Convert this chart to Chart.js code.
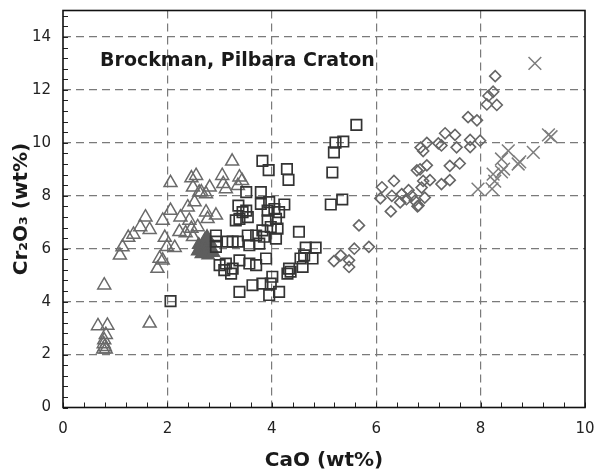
<!DOCTYPE html>
<html>
<head>
<meta charset="utf-8">
<script src="https://cdn.jsdelivr.net/npm/chart.js@4"></script>
<style>
  html,body{margin:0;padding:0;background:#fff;}
  #wrap{width:604px;height:473px;}
</style>
</head>
<body>
<div id="wrap"><canvas id="c" width="604" height="473"></canvas></div>
<script>
// ---- Data (CaO wt%, Cr2O3 wt%) ----
const chartLabel = "Brockman, Pilbara Craton";
const xTitle = "CaO (wt%)";
const yTitle = "Cr\u2082O\u2083 (wt%)";
const xTicks = [0, 2, 4, 6, 8, 10];
const yTicks = [0, 2, 4, 6, 8, 10, 12, 14];

const triangles = [
  [0.67,3.08],[0.85,3.1],[1.66,3.18],[0.82,2.75],[0.79,2.55],[0.78,2.4],[0.8,2.3],[0.77,2.2],[0.82,2.2],[0.79,4.62],
  [1.09,5.75],[1.14,6.06],[1.25,6.42],[1.35,6.54],[1.48,6.82],[1.58,7.19],[1.66,6.72],[1.91,7.07],[2.06,7.44],[2.06,8.49],
  [1.95,6.42],[1.99,6.07],[1.85,5.63],[1.81,5.25],[1.91,5.56],[2.14,6.04],[2.25,7.19],[2.39,7.57],[2.46,8.67],[2.55,8.76],
  [2.49,8.32],[2.61,8.13],[2.81,8.32],[2.74,8.07],[2.52,7.76],[2.42,7.07],[2.46,6.76],[2.23,6.64],[2.35,6.59],[2.49,6.45],
  [2.74,7.38],[2.93,7.26],[2.58,6.82],[3.24,9.30],[3.05,8.76],[3.07,8.45],[3.12,8.26],[3.38,8.70],[3.43,8.57],[3.35,8.38],
  [2.65,8.14],[2.77,7.13]
];
const filledCluster = [
  [2.62,6.0],[2.7,6.2],[2.75,5.9],[2.8,6.1],[2.65,5.8],[2.72,6.35],[2.85,6.0],[2.6,6.15],
  [2.78,5.75],[2.68,6.05],[2.82,6.25],[2.7,5.85],[2.58,5.9],[2.76,6.45],[2.88,5.85]
];
const squares = [
  [2.06,4.02],
  [3.82,9.32],[3.94,8.97],[4.29,9.01],[4.32,8.60],[3.51,8.14],[3.79,8.14],[3.36,7.63],[3.79,7.69],[3.95,7.76],[4.24,7.67],
  [3.44,7.38],[3.38,7.13],[3.54,7.19],[3.31,7.07],[3.51,7.44],
  [3.92,7.44],[4.05,7.50],[4.14,7.38],[3.92,7.07],[4.08,7.13],[3.98,6.82],[3.82,6.69],[4.11,6.76],[4.08,6.38],[3.85,6.45],
  [3.70,6.5],[3.54,6.5],[3.57,6.13],[3.76,6.19],
  [3.15,6.27],[3.25,6.27],[3.35,6.27],
  [2.93,6.5],[2.93,6.27],[2.93,6.07],
  [4.52,6.64],[4.65,6.04],[4.84,6.04],[4.62,5.75],[4.78,5.63],[4.55,5.63],[4.59,5.31],
  [3.0,5.38],[3.12,5.44],[3.25,5.25],[3.09,5.19],[3.22,5.06],[3.38,5.56],[3.57,5.44],[3.70,5.38],[3.89,5.63],
  [4.33,5.25],[4.36,5.13],[4.30,5.06],
  [3.38,4.37],[3.63,4.62],[3.82,4.68],[4.01,4.94],[3.98,4.68],[4.14,4.37],[3.95,4.25],
  [5.62,10.68],[5.22,10.01],[5.37,10.05],[5.19,9.64],[5.16,8.88],[5.13,7.67],[5.35,7.86]
];
const diamonds = [
  [5.19,5.53],[5.32,5.75],[5.48,5.56],[5.58,6.0],[5.86,6.07],[5.48,5.31],[5.67,6.88],
  [6.28,7.41],[6.08,7.9],[6.11,8.32],[6.34,8.56],[6.30,8.0],[6.46,7.75],[6.49,8.06],[6.58,7.87],[6.62,8.21],
  [6.68,8.0],[6.74,7.81],[6.79,7.6],[6.93,7.93],[6.87,8.31],[6.90,8.56],[7.03,8.59],[6.84,9.0],[6.97,9.15],
  [6.78,8.96],[6.90,9.69],[6.85,9.82],[6.97,10.0],[7.19,9.98],[7.25,9.9],[7.32,10.36],[7.51,10.3],[7.54,9.83],
  [7.80,10.11],[7.99,10.08],[7.80,9.84],[7.41,9.13],[7.60,9.22],[7.25,8.44],[7.41,8.59],[7.76,10.97],[7.93,10.85],
  [8.12,11.45],[8.31,11.43],[8.24,11.93],[8.15,11.77],[8.28,12.52],[6.81,7.63]
];
const crosses = [
  [9.04,13.0],[9.35,10.23],[9.30,10.30],[9.01,9.64],[8.53,9.70],[8.40,9.39],[8.44,9.01],[8.72,9.20],[8.75,9.28],
  [8.24,8.82],[8.22,8.26],[7.95,8.25],[8.27,8.55],[8.40,8.9]
];

const toXY = a => a.map(p => ({x: p[0], y: p[1]}));
const FONT = "'DejaVu Sans', Verdana, sans-serif";

const framePlugin = {
  id: 'frame',
  afterDatasetsDraw(chart) {
    const {ctx, chartArea: a, scales: {x, y}} = chart;
    ctx.save();
    ctx.strokeStyle = '#222';
    ctx.lineWidth = 1;
    ctx.beginPath();
    const step = 0.4;
    for (let i = 0; i * step <= x.max + 1e-9; i++) {
      const px = Math.round(x.getPixelForValue(i * step)) + 0.5;
      ctx.moveTo(px, a.bottom);
      ctx.lineTo(px, a.bottom - 5);
    }
    for (let i = 0; i * step <= y.max + 1e-9; i++) {
      const py = Math.round(y.getPixelForValue(i * step)) + 0.5;
      ctx.moveTo(a.left, py);
      ctx.lineTo(a.left + 5, py);
    }
    ctx.stroke();
    ctx.strokeStyle = '#111';
    ctx.lineWidth = 1.6;
    ctx.strokeRect(a.left, a.top, a.right - a.left, a.bottom - a.top);
    ctx.fillStyle = '#1a1a1a';
    ctx.font = "bold 19px " + FONT;
    ctx.textAlign = 'left';
    ctx.textBaseline = 'middle';
    ctx.fillText(chartLabel, x.getPixelForValue(0.71), y.getPixelForValue(13.08));
    ctx.restore();
  }
};

new Chart(document.getElementById('c'), {
  type: 'scatter',
  data: {
    datasets: [
      {label: 'squares', data: toXY(squares), pointStyle: 'rect', radius: 7.4, borderColor: '#333', backgroundColor: 'rgba(0,0,0,0)', borderWidth: 1.7, order: 1},
      {label: 'cluster', data: toXY(filledCluster), pointStyle: 'triangle', radius: 7, borderColor: '#5e5e5e', backgroundColor: '#5e5e5e', borderWidth: 1.5, order: 2},
      {label: 'triangles', data: toXY(triangles), pointStyle: 'triangle', radius: 7.5, borderColor: '#6a6a6a', backgroundColor: 'rgba(0,0,0,0)', borderWidth: 1.5, order: 3},
      {label: 'diamonds', data: toXY(diamonds), pointStyle: 'rectRot', radius: 5.5, borderColor: '#666', backgroundColor: 'rgba(0,0,0,0)', borderWidth: 1.6, order: 4},
      {label: 'crosses', data: toXY(crosses), pointStyle: 'crossRot', radius: 9, borderColor: '#7d7d7d', backgroundColor: 'rgba(0,0,0,0)', borderWidth: 1.5, order: 5}
    ]
  },
  options: {
    responsive: false,
    animation: false,
    devicePixelRatio: 1,
    layout: {padding: {top: 9, right: 19, left: 0, bottom: 0}},
    plugins: {legend: {display: false}, tooltip: {enabled: false}},
    scales: {
      x: {
        type: 'linear', min: 0, max: 10,
        afterBuildTicks: s => { s.ticks = xTicks.map(v => ({value: v})); },
        afterFit: s => { s.height = 65.5; s.paddingLeft = 0; s.paddingRight = 0; },
        ticks: {font: {family: FONT, size: 15}, color: '#222', padding: 13, maxRotation: 0},
        grid: {
          drawTicks: false, tickLength: 0, lineWidth: 1.2,
          color: c => (c.tick && (c.tick.value === 0 || c.tick.value === 10)) ? 'rgba(0,0,0,0)' : '#7a7a7a'
        },
        border: {display: false, dash: [8, 5]},
        title: {display: true, text: xTitle, font: {family: FONT, size: 20, weight: 'bold'}, color: '#1a1a1a', padding: {top: 0, bottom: 0}}
      },
      y: {
        type: 'linear', min: 0, max: 15,
        afterBuildTicks: s => { s.ticks = yTicks.map(v => ({value: v})); },
        afterFit: s => { s.width = 63; s.paddingTop = 0; s.paddingBottom = 0; },
        ticks: {font: {family: FONT, size: 15}, color: '#222', padding: 12},
        grid: {
          drawTicks: false, tickLength: 0, lineWidth: 1.2,
          color: c => (c.tick && c.tick.value === 0) ? 'rgba(0,0,0,0)' : '#7a7a7a'
        },
        border: {display: false, dash: [8, 5]},
        title: {display: true, text: yTitle, font: {family: FONT, size: 20, weight: 'bold'}, color: '#1a1a1a', padding: {top: 10, bottom: 0}}
      }
    }
  },
  plugins: [framePlugin]
});
</script>
</body>
</html>
